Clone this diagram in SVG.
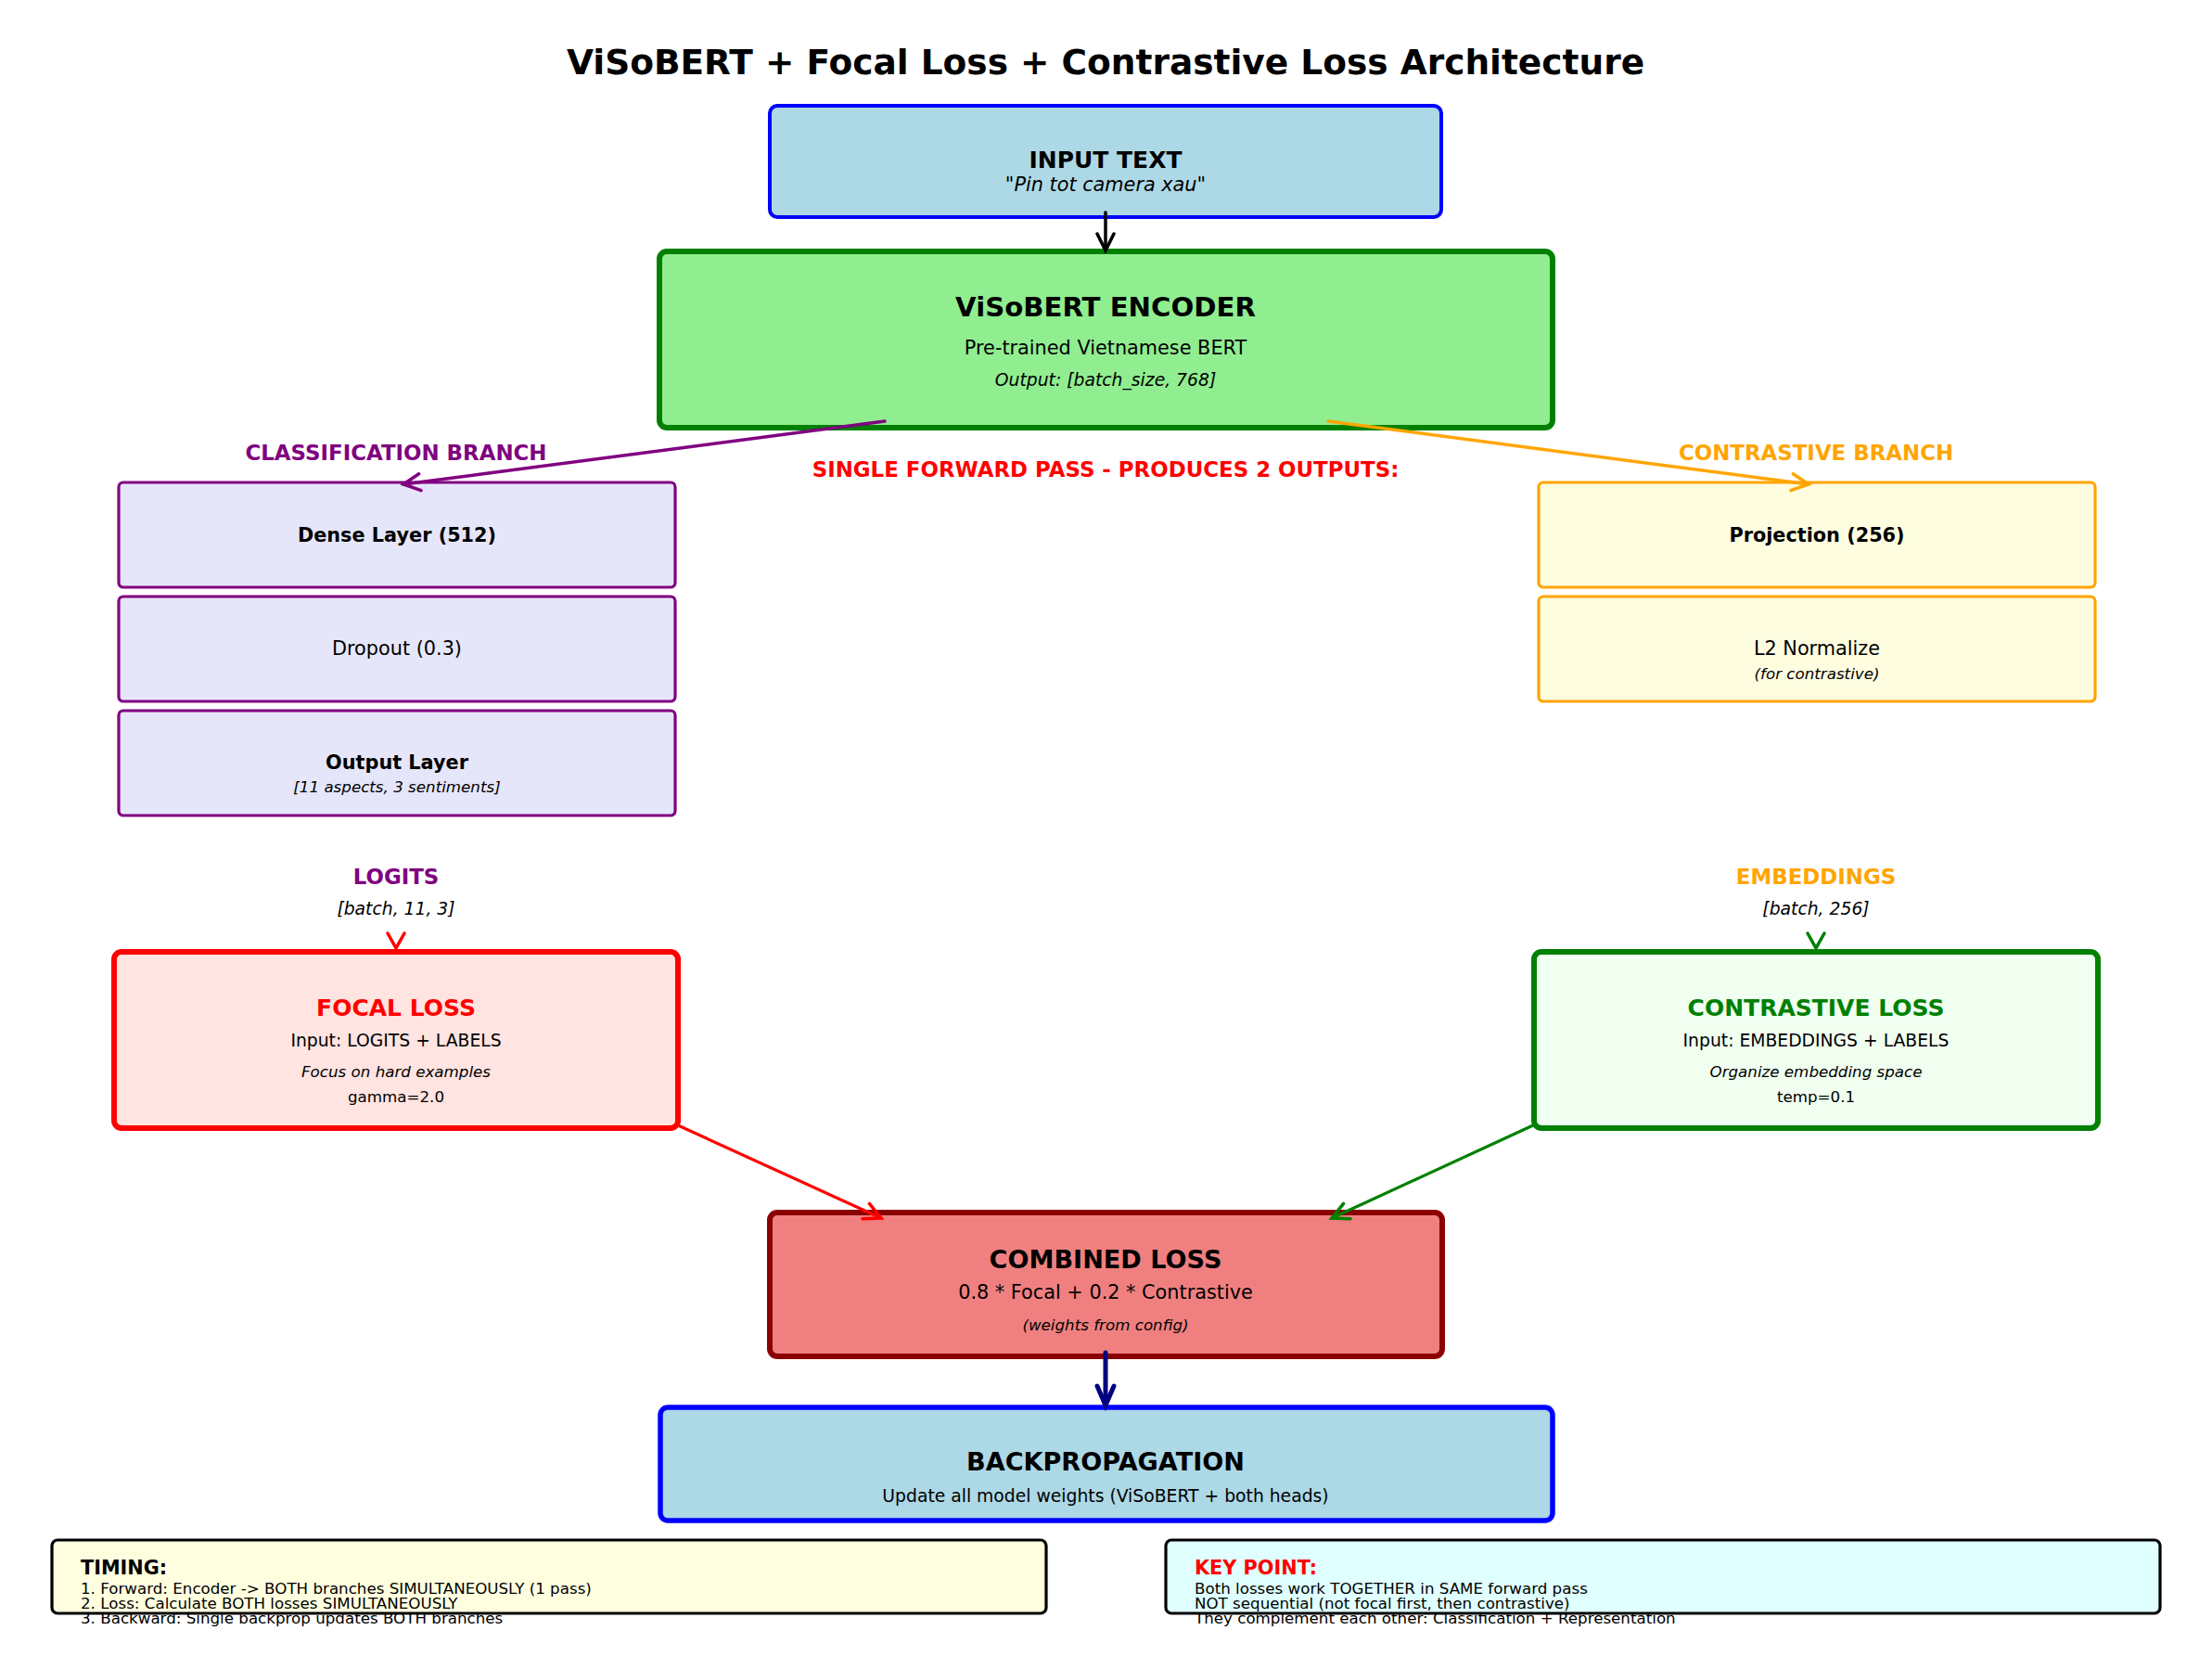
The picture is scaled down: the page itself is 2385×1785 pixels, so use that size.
<svg xmlns="http://www.w3.org/2000/svg" width="2385" height="1785" viewBox="0 0 2385 1785">
<style>
text{font-family:"DejaVu Sans","Liberation Sans",sans-serif;text-anchor:middle;fill:#000}
.b{font-weight:bold}
.i{font-style:italic}
.s8{font-size:16.7px}
.s9{font-size:18.75px}
.s10{font-size:20.8px}
.s11{font-size:22.9px}
.s12{font-size:25px}
.s13{font-size:27.1px}
.s14{font-size:29.2px}
.l{text-anchor:start}
.conn{fill:none;stroke-linecap:round}
</style>
<defs>
<marker id="mk" markerUnits="userSpaceOnUse" markerWidth="40" markerHeight="40" refX="0" refY="0" orient="auto" viewBox="-30 -20 40 40" overflow="visible"><path d="M-18,-9 L0,0 L-18,9" fill="none" stroke="#000" stroke-width="3.5" stroke-linecap="round"/></marker>
<marker id="mp" markerUnits="userSpaceOnUse" markerWidth="40" markerHeight="40" refX="0" refY="0" orient="auto" viewBox="-30 -20 40 40" overflow="visible"><path d="M-18,-9 L0,0 L-18,9" fill="none" stroke="#800080" stroke-width="3.5" stroke-linecap="round"/></marker>
<marker id="mo" markerUnits="userSpaceOnUse" markerWidth="40" markerHeight="40" refX="0" refY="0" orient="auto" viewBox="-30 -20 40 40" overflow="visible"><path d="M-18,-9 L0,0 L-18,9" fill="none" stroke="#FFA500" stroke-width="3.5" stroke-linecap="round"/></marker>
<marker id="mr" markerUnits="userSpaceOnUse" markerWidth="40" markerHeight="40" refX="0" refY="0" orient="auto" viewBox="-30 -20 40 40" overflow="visible"><path d="M-18,-9 L0,0 L-18,9" fill="none" stroke="#FF0000" stroke-width="3.5" stroke-linecap="round"/></marker>
<marker id="mg" markerUnits="userSpaceOnUse" markerWidth="40" markerHeight="40" refX="0" refY="0" orient="auto" viewBox="-30 -20 40 40" overflow="visible"><path d="M-18,-9 L0,0 L-18,9" fill="none" stroke="#008000" stroke-width="3.5" stroke-linecap="round"/></marker>
<marker id="mn" markerUnits="userSpaceOnUse" markerWidth="40" markerHeight="40" refX="0" refY="0" orient="auto" viewBox="-30 -20 40 40" overflow="visible"><path d="M-21,-9 L0,0 L-21,9" fill="none" stroke="#000080" stroke-width="5" stroke-linecap="round"/></marker>
</defs>
<rect width="2385" height="1785" fill="#fff"/>
<text class="b" x="1192" y="80" style="font-size:37.5px">ViSoBERT + Focal Loss + Contrastive Loss Architecture</text>

<g id="input">
<rect x="830" y="114" width="724" height="120" rx="8" fill="#ADD8E6" stroke="#0000FF" stroke-width="4"/>
<text class="b s12" x="1192" y="181">INPUT TEXT</text>
<text class="i s10" x="1192" y="206">"Pin tot camera xau"</text>
</g>

<g id="encoder">
<rect x="711" y="271" width="963" height="190" rx="8" fill="#90EE90" stroke="#008000" stroke-width="6"/>
<text class="b s14" x="1192" y="341">ViSoBERT ENCODER</text>
<text class="s10" x="1192" y="382">Pre-trained Vietnamese BERT</text>
<text class="i s9" x="1192" y="416">Output: [batch_size, 768]</text>
</g>

<text class="b s11" x="427" y="496" style="fill:#800080">CLASSIFICATION BRANCH</text>
<text class="b s11" x="1958" y="496" style="fill:#FFA500">CONTRASTIVE BRANCH</text>
<text class="b s11" x="1192" y="514" style="fill:#FF0000">SINGLE FORWARD PASS - PRODUCES 2 OUTPUTS:</text>

<g id="dense">
<rect x="128" y="520" width="600" height="113" rx="5" fill="#E6E6FA" stroke="#800080" stroke-width="3.2"/>
<text class="b s10" x="428" y="584">Dense Layer (512)</text>
</g>
<g id="dropout">
<rect x="128" y="643" width="600" height="113" rx="5" fill="#E6E6FA" stroke="#800080" stroke-width="3.2"/>
<text class="s10" x="428" y="706">Dropout (0.3)</text>
</g>
<g id="output">
<rect x="128" y="766" width="600" height="113" rx="5" fill="#E6E6FA" stroke="#800080" stroke-width="3.2"/>
<text class="b s10" x="428" y="829">Output Layer</text>
<text class="i s8" x="428" y="854">[11 aspects, 3 sentiments]</text>
</g>

<g id="projection">
<rect x="1659" y="520" width="600" height="113" rx="5" fill="#FFFDE0" stroke="#FFA500" stroke-width="3.2"/>
<text class="b s10" x="1959" y="584">Projection (256)</text>
</g>
<g id="l2norm">
<rect x="1659" y="643" width="600" height="113" rx="5" fill="#FFFDE0" stroke="#FFA500" stroke-width="3.2"/>
<text class="s10" x="1959" y="706">L2 Normalize</text>
<text class="i s8" x="1959" y="732">(for contrastive)</text>
</g>

<text class="b s11" x="427" y="953" style="fill:#800080">LOGITS</text>
<text class="i s9" x="427" y="986">[batch, 11, 3]</text>
<text class="b s11" x="1958" y="953" style="fill:#FFA500">EMBEDDINGS</text>
<text class="i s9" x="1958" y="986">[batch, 256]</text>

<g id="focal">
<rect x="123" y="1026" width="608" height="190" rx="8" fill="#FFE4E1" stroke="#FF0000" stroke-width="6"/>
<text class="b s12" x="427" y="1095" style="fill:#FF0000">FOCAL LOSS</text>
<text class="s9" x="427" y="1128">Input: LOGITS + LABELS</text>
<text class="i s8" x="427" y="1161">Focus on hard examples</text>
<text class="s8" x="427" y="1188">gamma=2.0</text>
</g>

<g id="contrastive">
<rect x="1654" y="1026" width="608" height="190" rx="8" fill="#F0FFF0" stroke="#008000" stroke-width="6"/>
<text class="b s12" x="1958" y="1095" style="fill:#008000">CONTRASTIVE LOSS</text>
<text class="s9" x="1958" y="1128">Input: EMBEDDINGS + LABELS</text>
<text class="i s8" x="1958" y="1161">Organize embedding space</text>
<text class="s8" x="1958" y="1188">temp=0.1</text>
</g>

<g id="combined">
<rect x="830" y="1307" width="725" height="155" rx="8" fill="#F08080" stroke="#8B0000" stroke-width="6"/>
<text class="b s13" x="1192" y="1367">COMBINED LOSS</text>
<text class="s10" x="1192" y="1400">0.8 * Focal + 0.2 * Contrastive</text>
<text class="i s8" x="1192" y="1434">(weights from config)</text>
</g>

<g id="backprop">
<rect x="712" y="1517" width="962" height="122" rx="8" fill="#ADD8E6" stroke="#0000FF" stroke-width="5.5"/>
<text class="b s13" x="1192" y="1585">BACKPROPAGATION</text>
<text class="s9" x="1192" y="1619">Update all model weights (ViSoBERT + both heads)</text>
</g>

<g id="timing">
<rect x="56" y="1660" width="1072" height="79" rx="6" fill="#FFFFE0"/>
<text class="b s10 l" x="87" y="1697">TIMING:</text>
<text class="s8 l" x="87" y="1718">1. Forward: Encoder -&gt; BOTH branches SIMULTANEOUSLY (1 pass)</text>
<text class="s8 l" x="87" y="1734">2. Loss: Calculate BOTH losses SIMULTANEOUSLY</text>
<text class="s8 l" x="87" y="1750">3. Backward: Single backprop updates BOTH branches</text>
<rect x="56" y="1660" width="1072" height="79" rx="6" fill="none" stroke="#000" stroke-width="3.2"/>
</g>

<g id="keypoint">
<rect x="1257" y="1660" width="1072" height="79" rx="6" fill="#E0FFFF"/>
<text class="b s10 l" x="1288" y="1697" style="fill:#FF0000">KEY POINT:</text>
<text class="s8 l" x="1288" y="1718">Both losses work TOGETHER in SAME forward pass</text>
<text class="s8 l" x="1288" y="1734">NOT sequential (not focal first, then contrastive)</text>
<text class="s8 l" x="1288" y="1750">They complement each other: Classification + Representation</text>
<rect x="1257" y="1660" width="1072" height="79" rx="6" fill="none" stroke="#000" stroke-width="3.2"/>
</g>

<g id="connectors">
<line class="conn" x1="1192" y1="229" x2="1192" y2="270" stroke="#000" stroke-width="3.5" marker-end="url(#mk)"/>
<line class="conn" x1="954" y1="454" x2="435" y2="522" stroke="#800080" stroke-width="3.5" marker-end="url(#mp)"/>
<line class="conn" x1="1432" y1="454" x2="1950" y2="522" stroke="#FFA500" stroke-width="3.5" marker-end="url(#mo)"/>
<path class="conn" d="M418,1006 L427,1022 L436,1006" stroke="#FF0000" stroke-width="3.5"/>
<path class="conn" d="M1949,1006 L1958,1022 L1967,1006" stroke="#008000" stroke-width="3.5"/>
<line class="conn" x1="731" y1="1213" x2="950" y2="1313" stroke="#FF0000" stroke-width="3.2" marker-end="url(#mr)"/>
<line class="conn" x1="1653" y1="1213" x2="1436" y2="1313" stroke="#008000" stroke-width="3.2" marker-end="url(#mg)"/>
<line class="conn" x1="1192" y1="1458" x2="1192" y2="1515" stroke="#000080" stroke-width="5" marker-end="url(#mn)"/>
</g>
</svg>
